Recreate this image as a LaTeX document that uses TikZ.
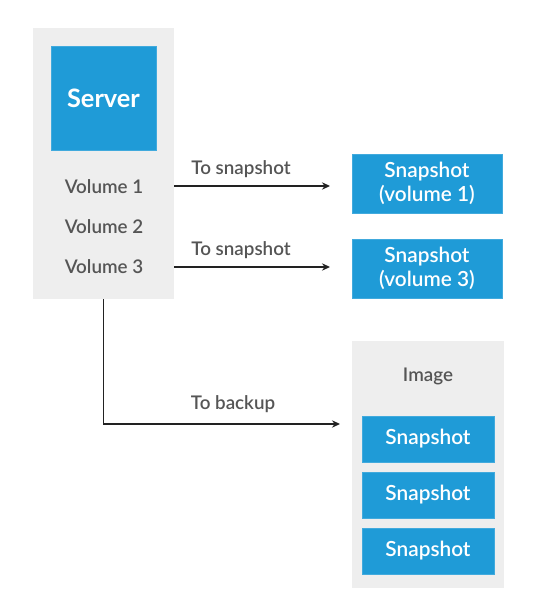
\documentclass[tikz,border=0pt]{standalone}
\usepackage{fontspec}
\setmainfont{Lato}[UprightFont={* Semibold}, BoldFont={* Bold}]
\usetikzlibrary{positioning,arrows.meta}

\definecolor{panelgray}{HTML}{EEEEEE}
\definecolor{boxblue}{HTML}{1F9BD7}
\definecolor{textgray}{HTML}{555555}
\definecolor{linedark}{HTML}{222222}

\begin{document}
\begin{tikzpicture}[x=0.75pt, y=-0.75pt,
  panel/.style={fill=panelgray, draw=none, inner sep=0pt},
  bluebox/.style={fill=boxblue, draw=boxblue!85!white, text=white, align=center, inner sep=0pt, font=\fontsize{15.6}{18}\selectfont},
  graytext/.style={text=textgray, font=\fontsize{14.1}{16.5}\selectfont},
  arrowline/.style={draw=linedark, line width=1.4pt, -{Stealth[length=6pt,width=5.5pt]}}]
% One pixel of the drawing
\def\px{0.75pt}

% Fix the page size
\useasboundingbox (0,0) rectangle (533,605);

% Server panel with its volumes
\node[panel, minimum width=141*\px, minimum height=271*\px] (srvpanel) at (103.5,163.5) {};
\node[bluebox, minimum width=105*\px, minimum height=104*\px, font=\fontsize{19}{23}\selectfont\bfseries] (server) at (103.5,98) {Server};
\node[graytext] (vol1) at (104,187) {Volume 1};
\node[graytext] (vol2) at (104,227) {Volume 2};
\node[graytext] (vol3) at (104,267) {Volume 3};

% Snapshots of single volumes
\node[bluebox, minimum width=150*\px, minimum height=59*\px] (snapA) at (427,183.5) {Snapshot\\(volume 1)};
\node[bluebox, minimum width=150*\px, minimum height=59*\px] (snapB) at (427,268.5) {Snapshot\\(volume 3)};

% Image with its snapshots
\node[panel, minimum width=152*\px, minimum height=247*\px] (imgpanel) at (428,464.5) {};
\node[graytext] (imglabel) at (428,376) {Image};
\node[bluebox, minimum width=132*\px, minimum height=46*\px] (imgsnap1) at (428,439) {Snapshot};
\node[bluebox, minimum width=132*\px, minimum height=46*\px] (imgsnap2) at (428,495) {Snapshot};
\node[bluebox, minimum width=132*\px, minimum height=46*\px] (imgsnap3) at (428,551) {Snapshot};

% Arrow ends
\coordinate (tipA) at (330,186);
\coordinate (tipB) at (330,267);
\coordinate (tipC) at (340,424);

% Connectors
\draw[arrowline] (srvpanel.east |- tipA) -- (tipA);
\draw[arrowline] (srvpanel.east |- tipB) -- (tipB);
\draw[arrowline] (srvpanel.south) |- (tipC);

% Connector labels
\node[graytext] (lblA) at (241,169) {To snapshot};
\node[graytext] (lblB) at (241,250) {To snapshot};
\node[graytext] (lblC) at (233,404) {To backup};
\end{tikzpicture}
\end{document}
